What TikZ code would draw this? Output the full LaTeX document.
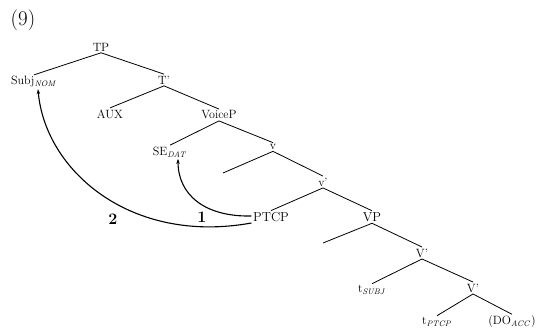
\documentclass[tikz,border=0pt]{standalone}
\usetikzlibrary{arrows.meta}
\begin{document}
\begin{tikzpicture}[x=1pt,y=-1pt,
  lab/.style={inner sep=1.5pt,font=\fontsize{12}{13}\selectfont},
  tlab/.style={inner sep=1.5pt,font=\fontsize{13}{14}\selectfont},
  br/.style={line width=0.8pt},
  mv/.style={line width=1.1pt,-{Stealth[length=5pt,width=3.5pt]}},
  num/.style={font=\bfseries\fontsize{16}{18}\selectfont}]
\useasboundingbox (0,0) rectangle (539,331);
\node[font=\fontsize{21}{24}\selectfont] (ex) at (23,20) {(9)};
\node[lab] (TP) at (101,47) {TP};
\node[lab] (Subj) at (34,82) {Subj$_{\mathit{NOM}}$};
\node[lab] (Tb) at (164,80) {T'};
\node[lab] (AUX) at (110,114) {AUX};
\node[lab] (VoiceP) at (219,115) {VoiceP};
\node[lab] (SE) at (170,152) {SE$_{\mathit{DAT}}$};
\node[lab] (v) at (273,147) {v};
\coordinate (e1) at (223,173);
\node[lab] (vb) at (323,182) {v'};
\node[tlab] (PTCP) at (271,217) {PTCP};
\node[tlab] (VP) at (372,217) {VP};
\coordinate (e2) at (323,243);
\node[lab] (Vb1) at (422,253) {V'};
\node[lab] (tS) at (372,290) {t$_{\mathit{SUBJ}}$};
\node[lab] (Vb2) at (473,288) {V'};
\node[lab] (tP) at (437,322) {t$_{\mathit{PTCP}}$};
\node[lab] (DO) at (512,322) {(DO$_{\mathit{ACC}}$)};
\draw[br] (TP.south) -- (Subj.north);
\draw[br] (TP.south) -- (Tb.north);
\draw[br] (Tb.south) -- (AUX.north);
\draw[br] (Tb.south) -- (VoiceP.north);
\draw[br] (VoiceP.south) -- (SE.north);
\draw[br] (VoiceP.south) -- (v.north);
\draw[br] (v.south) -- (e1);
\draw[br] (v.south) -- (vb.north);
\draw[br] (vb.south) -- (PTCP.north);
\draw[br] (vb.south) -- (VP.north);
\draw[br] (VP.south) -- (e2);
\draw[br] (VP.south) -- (Vb1.north);
\draw[br] (Vb1.south) -- (tS.north);
\draw[br] (Vb1.south) -- (Vb2.north);
\draw[br] (Vb2.south) -- (tP.north);
\draw[br] (Vb2.south) -- (DO.north);
\coordinate (p1) at ([yshift=1pt]PTCP.west);
\coordinate (p2) at ([yshift=-6pt]PTCP.west);
\draw[mv] (p1) .. controls (205,217) and (178,195) .. ([xshift=8pt]SE.south);
\draw[mv] (p2) .. controls (130,245) and (45,170) .. ([xshift=4pt]Subj.south);
\node[num] (n1) at (202,217) {1};
\node[num] (n2) at (113,219) {2};
\end{tikzpicture}
\end{document}
